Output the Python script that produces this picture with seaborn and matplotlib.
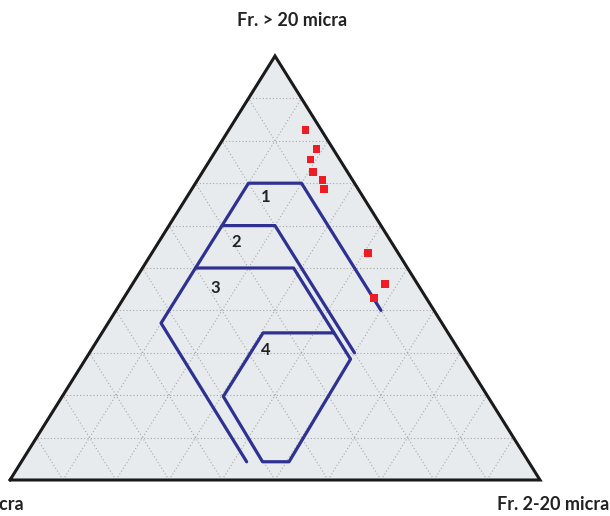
import matplotlib
matplotlib.use("Agg")
import matplotlib.pyplot as plt
import seaborn as sns
import numpy as np
import pandas as pd

# ternary data: A = Fr. > 20 micra (%), B = Fr. 2-20 micra (%), C = Fr. < 2 micra = 100 - A - B
sample_a = [82.5, 78.1, 75.6, 72.6, 70.7, 68.6, 53.6, 46.2, 42.9]
sample_b = [14.5, 18.8, 18.9, 20.9, 23.6, 25.0, 40.8, 47.6, 47.2]

# field boundaries (open polylines)
outer_a = [4.3, 37.0, 70.0, 70.0, 40.0]
outer_b = [42.5, 10.0, 10.0, 20.0, 50.0]
field2_a = [60.0, 60.0, 30.0]
field2_b = [10.0, 20.0, 50.0]
field3_a = [50.0, 50.0, 28.5, 4.3, 4.3, 19.7, 34.7, 34.7]
field3_b = [10.0, 28.5, 50.0, 50.5, 45.5, 30.4, 30.4, 43.6]

field_labels = ["1", "2", "3", "4"]
label_a = [66.7, 56.2, 45.2, 30.7]
label_b = [14.8, 14.5, 16.1, 33.0]

axis_titles = ["Fr. > 20 micra", "Fr. 2-20 micra", "Fr. < 2 micra"]


def to_xy(a, b):
    a = np.asarray(a) / 100.0
    b = np.asarray(b) / 100.0
    return b + a / 2, a


sns.set_theme(style="white")
plt.rcParams['font.family'] = ['Lato', 'DejaVu Sans']

fig = plt.figure(figsize=(6.1, 5.16), dpi=100)
W, H = 610, 516
ax = fig.add_axes([10 / W, 36 / H, 530 / W, 424 / H])
ax.set_xlim(0, 1)
ax.set_ylim(0, 1)
ax.axis('off')

# triangle fill and border
tri_x = [0, 1, 0.5, 0]
tri_y = [0, 0, 1, 0]
ax.fill(tri_x, tri_y, color='#e8ebed', zorder=0)

# dotted grid every 10 %
for k in range(1, 10):
    f = k / 10
    for pa, pb in [((f * 100, 0), (f * 100, 100 - f * 100)),
                   ((0, f * 100), (100 - f * 100, f * 100)),
                   ((0, 100 - f * 100), (100 - f * 100, 0))]:
        gx, gy = to_xy([pa[0], pb[0]], [pa[1], pb[1]])
        ax.plot(gx, gy, color='#a8a8a8', lw=0.8, ls=(0, (1, 2)), zorder=1)

ax.plot(tri_x, tri_y, color='#1a1a1a', lw=2.2, clip_on=False, zorder=5,
        solid_joinstyle='miter')

# field boundaries
for fa, fb in [(outer_a, outer_b), (field2_a, field2_b), (field3_a, field3_b)]:
    lx, ly = to_xy(fa, fb)
    df = pd.DataFrame({'x': lx, 'y': ly, 'order': range(len(lx))})
    sns.lineplot(data=df, x='x', y='y', sort=False, color='#2e3192', lw=2.3,
                 ax=ax, zorder=3)

# samples
sx, sy = to_xy(sample_a, sample_b)
samples = pd.DataFrame({'x': sx, 'y': sy})
sns.scatterplot(data=samples, x='x', y='y', marker='s', s=30, color='#ee1c24',
                edgecolor='none', ax=ax, zorder=4)

for lab, la, lb in zip(field_labels, label_a, label_b):
    tx, ty = to_xy([la], [lb])
    ax.text(tx[0], ty[0], lab, ha='center', va='center', fontsize=12,
            fontweight='bold', color='#222222', zorder=6)

ax.set_xlabel('')
ax.set_ylabel('')

fig.text(292 / W, 1 - 26 / H, axis_titles[0], ha='center', va='baseline',
         fontsize=13, fontweight='bold', color='#222222')
fig.text(609 / W, 1 - 510 / H, axis_titles[1], ha='right', va='baseline',
         fontsize=13, fontweight='bold', color='#222222')
fig.text(24 / W, 1 - 510 / H, axis_titles[2], ha='right', va='baseline',
         fontsize=13, fontweight='bold', color='#222222')

fig.savefig('out.png', dpi=100, facecolor='white')
